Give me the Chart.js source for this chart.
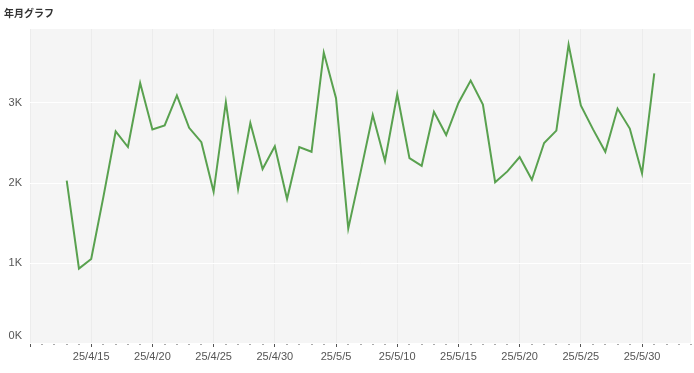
<!DOCTYPE html>
<html><head><meta charset="utf-8">
<script src="https://cdn.jsdelivr.net/npm/chart.js@4"></script>
<style>html,body{margin:0;padding:0;background:#fff}#wrap{width:694px;height:373px}</style>
</head><body><div id="wrap"><canvas id="c" width="694" height="373"></canvas></div>
<script>
const axisStart = '2025-04-10';
const axisEnd = '2025-06-03';
const dates = [
 '2025-04-13','2025-04-14','2025-04-15','2025-04-16','2025-04-17','2025-04-18','2025-04-19','2025-04-20','2025-04-21','2025-04-22',
 '2025-04-23','2025-04-24','2025-04-25','2025-04-26','2025-04-27','2025-04-28','2025-04-29','2025-04-30',
 '2025-05-01','2025-05-02','2025-05-03','2025-05-04','2025-05-05','2025-05-06','2025-05-07','2025-05-08','2025-05-09','2025-05-10',
 '2025-05-11','2025-05-12','2025-05-13','2025-05-14','2025-05-15','2025-05-16','2025-05-17','2025-05-18','2025-05-19','2025-05-20',
 '2025-05-21','2025-05-22','2025-05-23','2025-05-24','2025-05-25','2025-05-26','2025-05-27','2025-05-28','2025-05-29','2025-05-30','2025-05-31'
];
const values = [
 2030, 930, 1050, 1830, 2645, 2450, 3250, 2670, 2720, 3095,
 2690, 2510, 1890, 3010, 1925, 2750, 2175, 2460,
 1800, 2450, 2390, 3630, 3060, 1430, 2130, 2850, 2275, 3110,
 2310, 2215, 2890, 2600, 3000, 3280, 2980, 2010, 2145, 2325,
 2040, 2500, 2655, 3730, 2970, 2670, 2390, 2930, 2680, 2120, 3370
];
const yTicks = [0, 1000, 2000, 3000];
const yTickLabels = ['0K', '1K', '2K', '3K'];
const yMax = 3925;
const title = '年月グラフ';

const DAY = 86400000;
const t0 = Date.parse(axisStart + 'T00:00:00Z');
const dayOf = s => Math.round((Date.parse(s + 'T00:00:00Z') - t0) / DAY);
const xMax = dayOf(axisEnd);
const fmtDay = d => { const dt = new Date(t0 + d * DAY); return String(dt.getUTCFullYear() % 100) + '/' + (dt.getUTCMonth() + 1) + '/' + dt.getUTCDate(); };
const points = dates.map((d, i) => ({ x: dayOf(d), y: values[i] }));

const bgPlugin = {
  id: 'bg',
  beforeDraw(chart) {
    const { ctx, chartArea: a } = chart;
    ctx.save();
    ctx.fillStyle = '#f5f5f5';
    ctx.fillRect(a.left, a.top, a.right - a.left, a.bottom - a.top);
    ctx.restore();
  },
  afterDraw(chart) {
    const { ctx, chartArea: a } = chart;
    const sx = chart.scales.x;
    ctx.save();
    ctx.fillStyle = '#555';
    for (let d = 0; d <= xMax; d++) {
      if (d % 5 !== 0) ctx.fillRect(Math.round(sx.getPixelForValue(d)) - 0.5, a.bottom + 1, 1, 1);
    }
    ctx.restore();
  }
};

new Chart(document.getElementById('c'), {
  type: 'line',
  data: { datasets: [{ data: points, borderColor: '#59a14f', borderWidth: 2, pointRadius: 0, tension: 0, fill: false }] },
  options: {
    responsive: false, animation: false, devicePixelRatio: 1,
    layout: { padding: { left: 4, right: 0, top: 0, bottom: 0 } },
    plugins: {
      legend: { display: false }, tooltip: { enabled: false },
      title: { display: true, text: title, align: 'start', color: '#333',
        font: { family: 'Noto Sans CJK JP', size: 10, weight: 'bold' }, padding: { top: 7, bottom: 10 } }
    },
    scales: {
      x: {
        type: 'linear', min: 0, max: xMax,
        afterFit: s => { s.height = 30; },
        border: { display: false },
        grid: {
          color: c => (c.tick && c.tick.value % 5 === 0) ? '#ececec' : 'rgba(0,0,0,0)',
          tickColor: c => (c.tick && c.tick.value % 5 === 0) ? '#555' : 'rgba(0,0,0,0)',
          tickLength: 4, lineWidth: 1
        },
        ticks: {
          stepSize: 1, autoSkip: false, maxRotation: 0, minRotation: 0, padding: 3, color: '#555',
          font: { family: 'Liberation Sans', size: 11 },
          callback: v => (v % 5 === 0 && v > 0 && v <= xMax - 2) ? fmtDay(v) : ''
        }
      },
      y: {
        min: 0, max: yMax,
        afterFit: s => { s.width = 26; },
        border: { display: false },
        grid: { color: c => (c.tick && yTicks.includes(c.tick.value)) ? '#ffffff' : 'rgba(0,0,0,0)', drawTicks: false, lineWidth: 1 },
        afterBuildTicks: s => { s.ticks = yTicks.map(v => ({ value: v })); },
        ticks: {
          padding: 8, color: '#555', font: { family: 'Liberation Sans', size: 11 },
          callback: v => { const i = yTicks.indexOf(v); if (i < 0) return ''; return i === 0 ? [yTickLabels[i], ''] : yTickLabels[i]; }
        }
      }
    }
  },
  plugins: [bgPlugin]
});
</script>
</body></html>
